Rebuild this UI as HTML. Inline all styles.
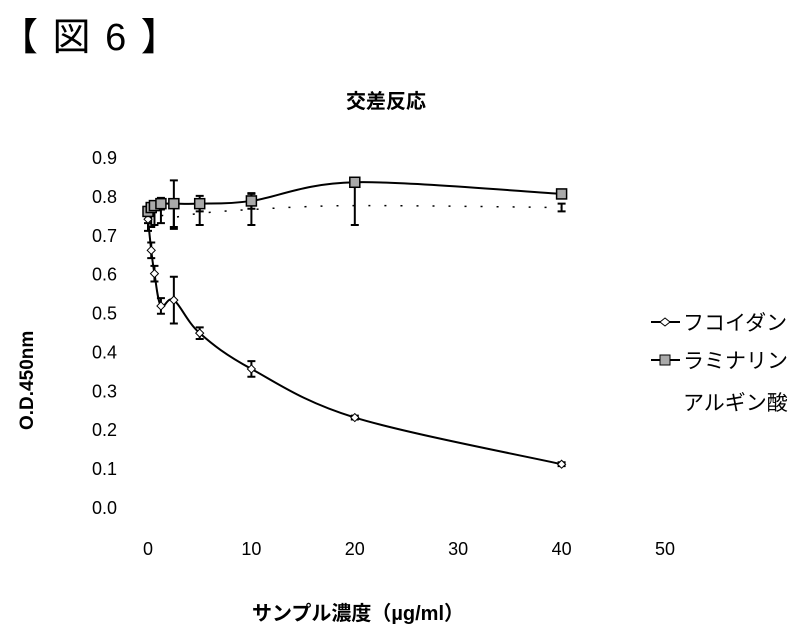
<!DOCTYPE html>
<html><head><meta charset="utf-8"><style>
body{margin:0;background:#fff;width:808px;height:631px;overflow:hidden;font-family:"Liberation Sans","Noto Sans CJK JP",sans-serif;}
</style></head><body>
<svg width="808" height="631" style="font-family:'Liberation Sans','Noto Sans CJK JP',sans-serif">
<text x="0" y="50" font-size="38" letter-spacing="2">【 図 6 】</text>
<text x="386" y="108" font-size="20" font-weight="bold" text-anchor="middle">交差反応</text>
<text transform="translate(33,430) rotate(-90)" font-size="19" font-weight="bold">O.D.450nm</text>
<text x="358" y="620" font-size="20" font-weight="bold" text-anchor="middle">サンプル濃度（µg/ml）</text>
<g id="yt"></g>
<g id="xt"></g>
<g id="plot"></g>
<g font-size="21">
 <g><line x1="651" y1="322" x2="680" y2="322" stroke="#000" stroke-width="2"/><path d="M660 322 l5 -4 l5 4 l-5 4z" fill="#fff" stroke="#000"/><text x="683" y="330">フコイダン</text></g>
 <g><line x1="651" y1="360" x2="680" y2="360" stroke="#000" stroke-width="2"/><rect x="660" y="355" width="10" height="10" fill="#aaa" stroke="#000"/><text x="683" y="368">ラミナリン</text></g>
 <g><text x="683" y="410">アルギン酸</text></g>
</g>
</svg>
<script>
const xVals=[0,0.3125,0.625,1.25,2.5,5,10,20,40];
const fucoidan=[0.74,0.66,0.6,0.517,0.532,0.447,0.355,0.23,0.11];
const fucoidanErr=[0.01,0.02,0.02,0.02,0.06,0.015,0.02,0.005,0.005];
const laminarin=[0.76,0.77,0.775,0.78,0.78,0.78,0.787,0.835,0.805];
const laminarinErr=[0.01,0.01,0.01,0.015,0.06,0.02,0.02,0.005,0.005];
const alginate=[0.73,0.74,0.745,0.75,0.745,0.755,0.765,0.775,0.77];
const alginateErr=[0.02,0.02,0.02,0.02,0.03,0.03,0.04,0.05,0.01];
const yTicks=[0,0.1,0.2,0.3,0.4,0.5,0.6,0.7,0.8,0.9];
const xTicks=[0,10,20,30,40,50];
const NS='http://www.w3.org/2000/svg';
const X=v=>148+v*10.34, Y=v=>507-v*388.9;
function mk(t,a,p){const e=document.createElementNS(NS,t);for(const k in a)e.setAttribute(k,a[k]);p.appendChild(e);return e;}
const yt=document.getElementById('yt'),xt=document.getElementById('xt'),plot=document.getElementById('plot');
yTicks.forEach(v=>{const t=mk('text',{x:117,y:Y(v)+7,'font-size':18,'text-anchor':'end'},yt);t.textContent=v.toFixed(1);

});
xTicks.forEach(v=>{const t=mk('text',{x:X(v),y:555,'font-size':18,'text-anchor':'middle'},xt);t.textContent=v;

});
function smooth(vals){const p=xVals.map((x,i)=>[X(x),Y(vals[i])]);let d='M'+p[0];for(let i=0;i<p.length-1;i++){const p0=p[i-1]||p[i],p1=p[i],p2=p[i+1],p3=p[i+2]||p2;
d+=' C'+(p1[0]+(p2[0]-p0[0])/6)+','+(p1[1]+(p2[1]-p0[1])/6)+' '+(p2[0]-(p3[0]-p1[0])/6)+','+(p2[1]-(p3[1]-p1[1])/6)+' '+p2[0]+','+p2[1];}return d;}
function series(vals,errs,name,dash,marker){
 const g=mk('g',{},plot);
 
 
 vals.forEach((v,i)=>{const x=X(xVals[i]);mk('path',{d:`M${x-4},${Y(v+errs[i])}h8M${x},${Y(v+errs[i])}V${Y(v-errs[i])}M${x-4},${Y(v-errs[i])}h8`,stroke:'#000','stroke-width':2,fill:'none'},g);});
 mk('path',{d:smooth(vals),fill:'none',stroke:'#000','stroke-width':dash?1.5:2,'stroke-dasharray':dash||'none'},g);
 if(marker)vals.forEach((v,i)=>{const x=X(xVals[i]),y=Y(v);let m;
  if(marker==='sq')m=mk('rect',{x:x-5,y:y-5,width:10,height:10,fill:'#aaa',stroke:'#000','stroke-width':1.5},g);
  else m=mk('path',{d:`M${x-4},${y}l4,-4l4,4l-4,4z`,fill:'#fff',stroke:'#000'},g);
  
  });
}
series(alginate,alginateErr,'alginate','2 14',null);
series(fucoidan,fucoidanErr,'fucoidan',null,'dia');
series(laminarin,laminarinErr,'laminarin',null,'sq');
</script>
</body></html>
